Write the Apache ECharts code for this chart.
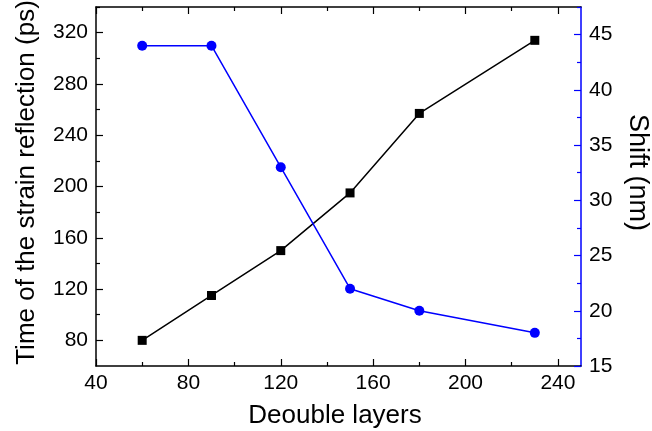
<!DOCTYPE html>
<html>
<head>
<meta charset="utf-8">
<script src="https://cdn.jsdelivr.net/npm/echarts@6/dist/echarts.min.js"></script>
<style>
  html, body { margin: 0; padding: 0; background: #fff; }
  #chart { width: 652px; height: 431px; }
</style>
</head>
<body>
<div id="chart"></div>
<script>
// Number of double layers (x positions)
const layers = [60, 90, 120, 150, 180, 230];
// Time of the strain reflection, ps (left axis)
const reflectionTime = [80, 115, 150, 195, 257, 314];
// Shift, nm (right axis)
const shift = [44, 44, 33, 22, 20, 18];

// Tick positions
const xMajor = [40, 80, 120, 160, 200, 240];
const xMinor = [60, 100, 140, 180, 220];
const yLeftMajor = [80, 120, 160, 200, 240, 280, 320];
const yLeftMinor = [100, 140, 180, 220, 260, 300, 340];
const yRightMajor = [15, 20, 25, 30, 35, 40, 45];
const yRightMinor = [17.5, 22.5, 27.5, 32.5, 37.5, 42.5, 47.5];

const FONT = 'Liberation Sans, Arial, sans-serif';
const BLUE = '#0000ff';
const TICK_FONT = 21;

function xAxisDef(pos, ticks, len, showLabel, showLine) {
  return {
    type: 'value', position: pos, min: 40, max: 250,
    axisLine: { show: showLine, onZero: false, lineStyle: { color: '#000', width: 1.5 } },
    axisTick: { show: true, inside: true, length: len, customValues: ticks, lineStyle: { color: '#000', width: 1.2 } },
    axisLabel: showLabel ? { show: true, customValues: ticks, color: '#000', fontSize: TICK_FONT, fontFamily: FONT, margin: 7 } : { show: false },
    splitLine: { show: false }
  };
}

function yAxisDef(pos, min, max, ticks, len, showLabel, showLine, color) {
  return {
    type: 'value', position: pos, min: min, max: max,
    axisLine: { show: showLine, onZero: false, lineStyle: { color: color, width: 1.5 } },
    axisTick: { show: true, inside: true, length: len, customValues: ticks, lineStyle: { color: color, width: 1.2 } },
    axisLabel: showLabel ? { show: true, customValues: ticks, color: '#000', fontSize: TICK_FONT, fontFamily: FONT, margin: 8 } : { show: false },
    splitLine: { show: false }
  };
}

const xAxes = [
  Object.assign(xAxisDef('bottom', xMajor, 7, true, true), {
    name: 'Deouble layers', nameLocation: 'middle', nameGap: 37,
    nameTextStyle: { fontSize: 26, fontFamily: FONT, color: '#000', padding: [0, 7, 0, 0] }
  }),
  xAxisDef('bottom', xMinor, 4, false, false),
  xAxisDef('top', xMajor, 7, false, true),
  xAxisDef('top', xMinor, 4, false, false)
];

const yAxes = [
  Object.assign(yAxisDef('left', 60, 340, yLeftMajor, 7, true, true, '#000'), {
    name: 'Time of the strain reflection (ps)', nameLocation: 'middle', nameGap: 56,
    nameTextStyle: { fontSize: 26, fontFamily: FONT, color: '#000', padding: [0, 0, 0, 8] }
  }),
  yAxisDef('left', 60, 340, yLeftMinor, 4, false, false, '#000'),
  Object.assign(yAxisDef('right', 15, 47.5, yRightMajor, 7, true, true, BLUE), {
    name: 'Shift (nm)', nameLocation: 'middle', nameGap: 43, nameRotate: -90,
    nameTextStyle: { fontSize: 27, fontFamily: FONT, color: '#000', padding: [0, 28, 0, 0] }
  }),
  yAxisDef('right', 15, 47.5, yRightMinor, 4, false, false, BLUE)
];

const chart = echarts.init(document.getElementById('chart'), null, { renderer: 'canvas' });
chart.setOption({
  animation: false,
  backgroundColor: '#fff',
  grid: { left: 96, right: 71, top: 7, bottom: 65, containLabel: false, outerBoundsMode: 'none' },
  xAxis: xAxes,
  yAxis: yAxes,
  series: [
    {
      type: 'line', xAxisIndex: 0, yAxisIndex: 0,
      data: layers.map((x, i) => [x, reflectionTime[i]]),
      symbol: 'rect', symbolSize: 9,
      lineStyle: { color: '#000', width: 1.5 },
      itemStyle: { color: '#000' },
      z: 3
    },
    {
      type: 'line', xAxisIndex: 0, yAxisIndex: 2,
      data: layers.map((x, i) => [x, shift[i]]),
      symbol: 'circle', symbolSize: 10,
      lineStyle: { color: BLUE, width: 1.5 },
      itemStyle: { color: BLUE },
      z: 3
    }
  ]
});
</script>
</body>
</html>
